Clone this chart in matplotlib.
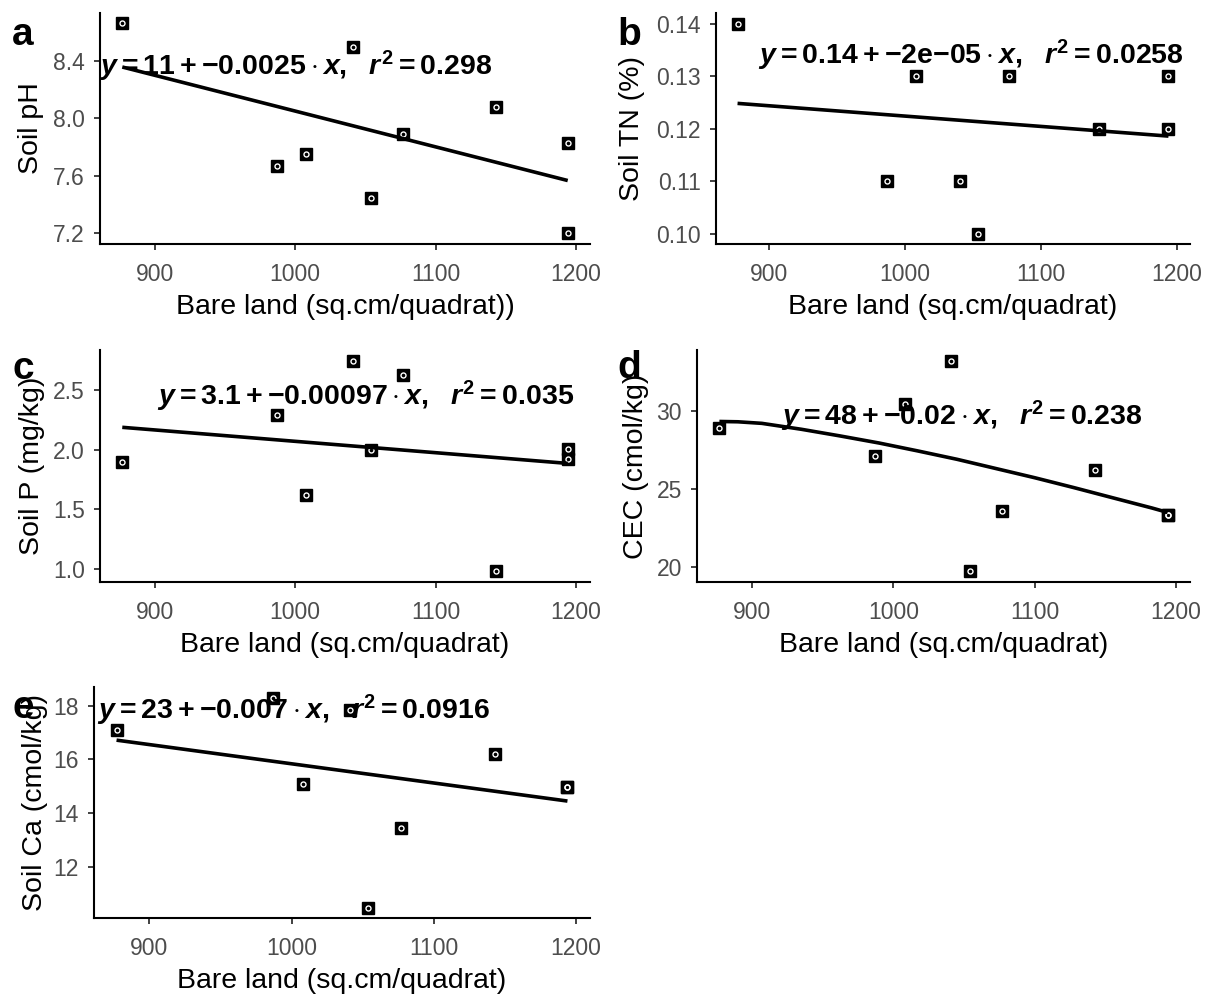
import numpy as np
import matplotlib
matplotlib.use("Agg")
import matplotlib.pyplot as plt
from matplotlib.ticker import FormatStrFormatter

# ---- data -------------------------------------------------------------
bare_land = [877, 987, 1008, 1041, 1054, 1077, 1143, 1194, 1194]

soil_ph = [8.66, 7.67, 7.75, 8.50, 7.45, 7.89, 8.08, 7.83, 7.20]
soil_tn = [0.14, 0.11, 0.13, 0.11, 0.10, 0.13, 0.12, 0.13, 0.12]
soil_p = [1.90, 2.29, 1.62, 2.75, 2.00, 2.63, 0.98, 2.01, 1.92]
soil_cec = [28.9, 27.1, 30.4, 33.2, 19.7, 23.6, 26.2, 23.3, 23.3]
soil_ca = [17.1, 18.3, 15.1, 17.85, 10.5, 13.45, 16.2, 14.97, 14.97]

# smoothed CEC trend (curved fit)
cec_trend_x = [877, 890, 907, 935, 962, 990, 1017, 1045, 1072, 1100, 1128,
               1155, 1183, 1194]
cec_trend_y = [29.3, 29.28, 29.18, 28.8, 28.38, 27.92, 27.42, 26.88, 26.3,
               25.7, 25.06, 24.42, 23.76, 23.48]

x_ticks = [900, 1000, 1100, 1200]
ph_ticks = [7.2, 7.6, 8.0, 8.4]
tn_ticks = [0.10, 0.11, 0.12, 0.13, 0.14]
p_ticks = [1.0, 1.5, 2.0, 2.5]
cec_ticks = [20, 25, 30]
ca_ticks = [12, 14, 16, 18]

eq_ph = r"$y = 11 + {-}0.0025\cdot x,\ \ r^2 = 0.298$"
eq_tn = r"$y = 0.14 + {-}2\mathrm{e}{-}05\cdot x,\ \ r^2 = 0.0258$"
eq_p = r"$y = 3.1 + {-}0.00097\cdot x,\ \ r^2 = 0.035$"
eq_cec = r"$y = 48 + {-}0.02\cdot x,\ \ r^2 = 0.238$"
eq_ca = r"$y = 23 + {-}0.007\cdot x,\ \ r^2 = 0.0916$"

# ---- style ------------------------------------------------------------
plt.rcParams.update({
    "font.family": ["Liberation Sans", "DejaVu Sans"],
    "mathtext.fontset": "custom",
    "mathtext.rm": "Liberation Sans:bold",
    "mathtext.bf": "Liberation Sans:bold",
    "mathtext.it": "Liberation Sans:italic:bold",
    "mathtext.sf": "Liberation Sans:bold",
})

W, H = 1218, 999
fig = plt.figure(figsize=(W / 100, H / 100), dpi=100)


def px_axes(left, top, right, bottom):
    return fig.add_axes([left / W, 1 - bottom / H, (right - left) / W,
                         (bottom - top) / H])


def panel(ax, y, ylabel, yticks, yfmt, xlabel, eq, eq_xy, ylab_x,
          trend=None):
    x = np.asarray(bare_land, float)
    y = np.asarray(y, float)
    ax.plot(x, y, ls="none", marker="s", ms=8.4, mfc="black", mec="black",
            mew=1.0, zorder=3)
    ax.plot(x, y, ls="none", marker="o", ms=3.6, mfc="none", mec="white",
            mew=1.0, zorder=4)
    if trend is None:
        coef = np.polyfit(x, y, 1)
        xs = np.linspace(x.min(), x.max(), 80)
        ys = np.polyval(coef, xs)
    else:
        xs, ys = trend
    ax.plot(xs, ys, color="black", lw=2.6, zorder=5, solid_capstyle="butt",
            solid_joinstyle="round")
    ax.margins(x=0.05, y=0.05)

    ax.set_xticks(x_ticks)
    ax.set_yticks(yticks)
    ax.yaxis.set_major_formatter(FormatStrFormatter(yfmt))
    for s in ("top", "right"):
        ax.spines[s].set_visible(False)
    for s in ("left", "bottom"):
        ax.spines[s].set_linewidth(1.5)
        ax.spines[s].set_color("black")
    ax.tick_params(axis="both", length=4.5, width=1.3, color="#333333",
                   labelsize=16.5, labelcolor="#4D4D4D")
    ax.tick_params(axis="x", pad=9)
    ax.tick_params(axis="y", pad=6.3)

    ax.set_xlabel(xlabel, fontsize=20.5, color="black")
    ax.xaxis.set_label_coords(0.5, -0.216)
    ax.set_ylabel(ylabel, fontsize=20.5, color="black")
    ax.yaxis.set_label_coords(ylab_x, 0.5)

    ax.text(eq_xy[0], eq_xy[1], eq, transform=ax.transAxes, ha="center",
            va="baseline", fontsize=20.5, color="black", zorder=10,
            clip_on=False)


ax_a = px_axes(100, 13, 590, 244)
ax_b = px_axes(716, 13, 1190, 244)
ax_c = px_axes(100, 350, 590, 582)
ax_d = px_axes(697, 350, 1190, 582)
ax_e = px_axes(94, 687, 590, 918)

panel(ax_a, soil_ph, "Soil pH", ph_ticks, "%.1f",
      "Bare land (sq.cm/quadrat))", eq_ph, (0.399, 0.732), -0.114)
panel(ax_b, soil_tn, "Soil TN (%)", tn_ticks, "%.2f",
      "Bare land (sq.cm/quadrat)", eq_tn, (0.537, 0.779), -0.150)
panel(ax_c, soil_p, "Soil P (mg/kg)", p_ticks, "%.1f",
      "Bare land (sq.cm/quadrat)", eq_p, (0.542, 0.763), -0.113)
panel(ax_d, soil_cec, "CEC (cmol/kg)", cec_ticks, "%d",
      "Bare land (sq.cm/quadrat)", eq_cec, (0.5375, 0.677), -0.097,
      trend=(cec_trend_x, cec_trend_y))
panel(ax_e, soil_ca, "Soil Ca (cmol/kg)", ca_ticks, "%d",
      "Bare land (sq.cm/quadrat)", eq_ca, (0.402, 0.861), -0.093)

# panel letters
for letter, (lx, ly) in zip("abcde", [(12, 45), (617, 45), (12, 379),
                                      (617, 378), (12, 718)]):
    fig.text(lx / W, 1 - ly / H, letter, fontsize=28, fontweight="bold",
             ha="left", va="baseline", color="black", zorder=20)

fig.savefig("out.png", dpi=100, facecolor="white")
